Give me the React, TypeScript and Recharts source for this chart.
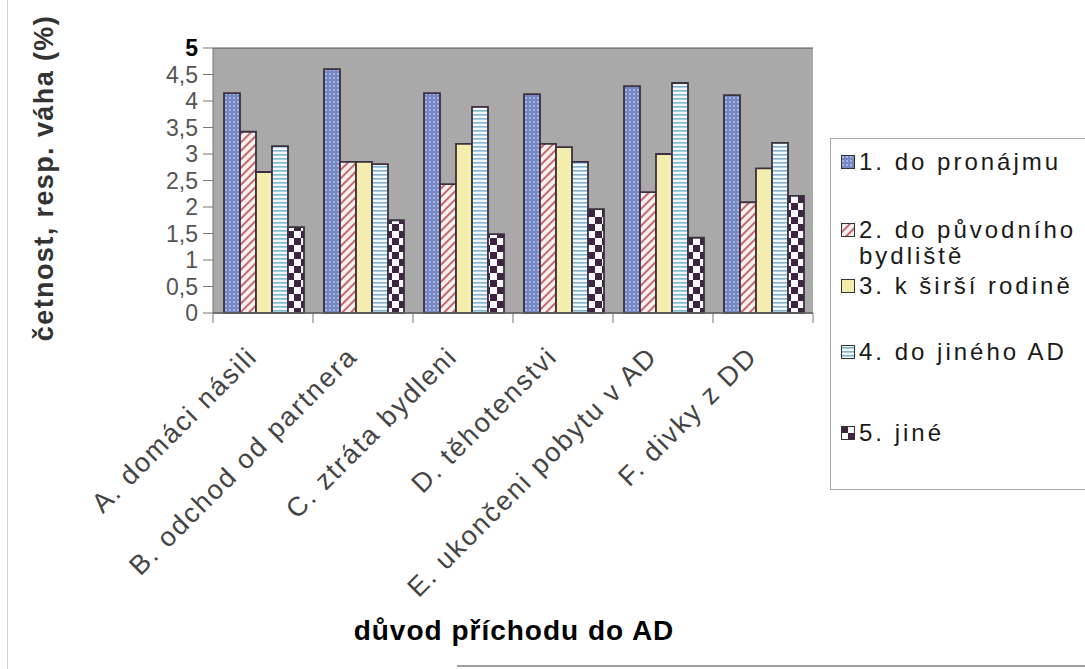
import { BarChart, Bar, XAxis, YAxis, CartesianGrid, Legend } from 'recharts';

const categories = [
  'A. domáci násili',
  'B. odchod od partnera',
  'C. ztráta bydleni',
  'D. těhotenstvi',
  'E. ukončeni pobytu v AD',
  'F. divky z DD',
];

const seriesNames = [
  '1. do pronájmu',
  '2. do původního bydliště',
  '3. k širší rodině',
  '4. do jiného AD',
  '5. jiné',
];

const pronajem = [4.15, 4.6, 4.15, 4.13, 4.28, 4.11];
const puvodniBydliste = [3.42, 2.85, 2.43, 3.19, 2.28, 2.09];
const sirsiRodina = [2.66, 2.85, 3.19, 3.13, 3.0, 2.73];
const jinyAD = [3.15, 2.81, 3.89, 2.85, 4.34, 3.21];
const jine = [1.62, 1.75, 1.49, 1.96, 1.42, 2.21];

const yTicks = [0, 0.5, 1, 1.5, 2, 2.5, 3, 3.5, 4, 4.5, 5];

const seriesValues = [pronajem, puvodniBydliste, sirsiRodina, jinyAD, jine];

const data = categories.map((name, i) => {
  const row: Record<string, string | number> = { name };
  seriesValues.forEach((vals, s) => {
    row['s' + s] = vals[i];
  });
  return row;
});

const FONT = '"Liberation Sans", Arial, sans-serif';
const BAND = 100; // one category width in px
const fills = ['url(#pat0)', 'url(#pat1)', '#f3eeae', 'url(#pat3)', 'url(#pat4)'];
const legendTops = [10, 78, 134, 200, 281];

const YTick = (props: any) => {
  const { x, y, payload } = props;
  const top = payload.value === 5;
  return (
    <text
      x={x}
      y={y}
      dy="0.36em"
      textAnchor="end"
      fontFamily={FONT}
      fontSize={23}
      fontWeight={top ? 'bold' : 'normal'}
      fill={top ? '#000' : '#555'}
    >
      {String(payload.value).replace('.', ',')}
    </text>
  );
};

const XTick = (props: any) => {
  const { x, y, payload, index } = props;
  const tx = x - 4;
  const ty = y + 45;
  return (
    <g>
      <line x1={x - BAND / 2} x2={x - BAND / 2} y1={y} y2={y + 10} stroke="#777" />
      {index === categories.length - 1 && (
        <line x1={x + BAND / 2} x2={x + BAND / 2} y1={y} y2={y + 10} stroke="#777" />
      )}
      <text
        x={tx}
        y={ty}
        textAnchor="end"
        transform={`rotate(-45, ${tx}, ${ty})`}
        fontFamily={FONT}
        fontSize={27}
        letterSpacing={2}
        fill="#444"
      >
        {payload.value}
      </text>
    </g>
  );
};

const LegendBox = () => (
  <div
    style={{
      position: 'relative',
      width: 270,
      height: 352,
      border: '1px solid #a8a8a8',
      boxSizing: 'border-box',
      fontFamily: FONT,
      fontSize: 24,
      letterSpacing: 3,
      color: '#1a1a1a',
    }}
  >
    {seriesNames.map((name, i) => (
      <div
        key={name}
        style={{
          position: 'absolute',
          left: 10,
          top: legendTops[i],
          display: 'flex',
          alignItems: 'flex-start',
          lineHeight: '26px',
        }}
      >
        <svg width={14} height={14} style={{ marginTop: 6, marginRight: 4, flex: 'none' }}>
          <rect x={0.5} y={0.5} width={13} height={13} fill={fills[i]} stroke="#333" />
        </svg>
        <span style={{ width: 245, whiteSpace: 'normal' }}>{name}</span>
      </div>
    ))}
  </div>
);

export default function App() {
  return (
    <div style={{ position: 'absolute', left: 0, top: 0, width: 1085, height: 669, background: '#fff', overflow: 'hidden' }}>
      <div style={{ position: 'absolute', left: 7, top: 0, width: 1, height: 669, background: '#d0d0d0' }} />
      <div style={{ position: 'absolute', left: 457, top: 665, width: 628, height: 2, background: '#a0a0a0' }} />
      <BarChart
        width={1085}
        height={669}
        data={data}
        margin={{ top: 48, right: 272, left: 0, bottom: 0 }}
        barCategoryGap="11%"
        barGap={0}
      >
        <defs>
          <pattern id="pat0" width="4" height="4" patternUnits="userSpaceOnUse">
            <rect width="4" height="4" fill="#7587c4" />
            <circle cx="2" cy="2" r="1.1" fill="#b4c0ea" />
          </pattern>
          <pattern id="pat1" width="6" height="6" patternUnits="userSpaceOnUse" patternTransform="rotate(45)">
            <rect width="6" height="6" fill="#f6f0f0" />
            <rect width="2" height="6" fill="#c86a6a" />
          </pattern>
          <pattern id="pat3" width="4" height="4" patternUnits="userSpaceOnUse">
            <rect width="4" height="4" fill="#f4f8fa" />
            <rect y="2" width="4" height="1.6" fill="#7db5cf" />
          </pattern>
          <pattern id="pat4" width="14" height="14" patternUnits="userSpaceOnUse">
            <rect width="14" height="14" fill="#fbf8fb" />
            <rect width="7" height="7" fill="#3d2440" />
            <rect x="7" y="7" width="7" height="7" fill="#3d2440" />
          </pattern>
        </defs>
        <CartesianGrid fill="#a9a9a9" stroke="#555" vertical={false} fillOpacity={1} />
        <XAxis
          dataKey="name"
          height={356}
          interval={0}
          tickLine={false}
          tickSize={0}
          tickMargin={0}
          axisLine={{ stroke: '#666', strokeWidth: 1.5 }}
          tick={<XTick />}
        />
        <YAxis
          yAxisId="left"
          width={213}
          domain={[0, 5]}
          ticks={yTicks}
          interval={0}
          tickSize={10}
          tickMargin={5}
          tickLine={{ stroke: '#777' }}
          axisLine={{ stroke: '#777' }}
          tick={<YTick />}
        />
        <YAxis
          yAxisId="right"
          orientation="right"
          width={0}
          domain={[0, 5]}
          tick={false}
          tickLine={false}
          axisLine={{ stroke: '#666' }}
        />
        {seriesNames.map((name, i) => (
          <Bar
            key={name}
            yAxisId="left"
            dataKey={'s' + i}
            name={name}
            fill={fills[i]}
            stroke="#3d3040"
            strokeWidth={1.8}
            isAnimationActive={false}
          />
        ))}
        <Legend
          layout="vertical"
          align="center"
          verticalAlign="middle"
          content={() => <LegendBox />}
          wrapperStyle={{ position: 'absolute', left: 830, top: 138, width: 270, height: 352 }}
        />
        <text
          x={53}
          y={178}
          transform="rotate(-90, 53, 178)"
          textAnchor="middle"
          fontFamily={FONT}
          fontSize={27}
          letterSpacing={1.4}
          fontWeight="bold"
          fill="#333"
        >
          četnost, resp. váha (%)
        </text>
        <text
          x={514}
          y={640}
          textAnchor="middle"
          fontFamily={FONT}
          fontSize={28}
          letterSpacing={1}
          fontWeight="bold"
          fill="#000"
        >
          důvod příchodu do AD
        </text>
      </BarChart>
    </div>
  );
}
